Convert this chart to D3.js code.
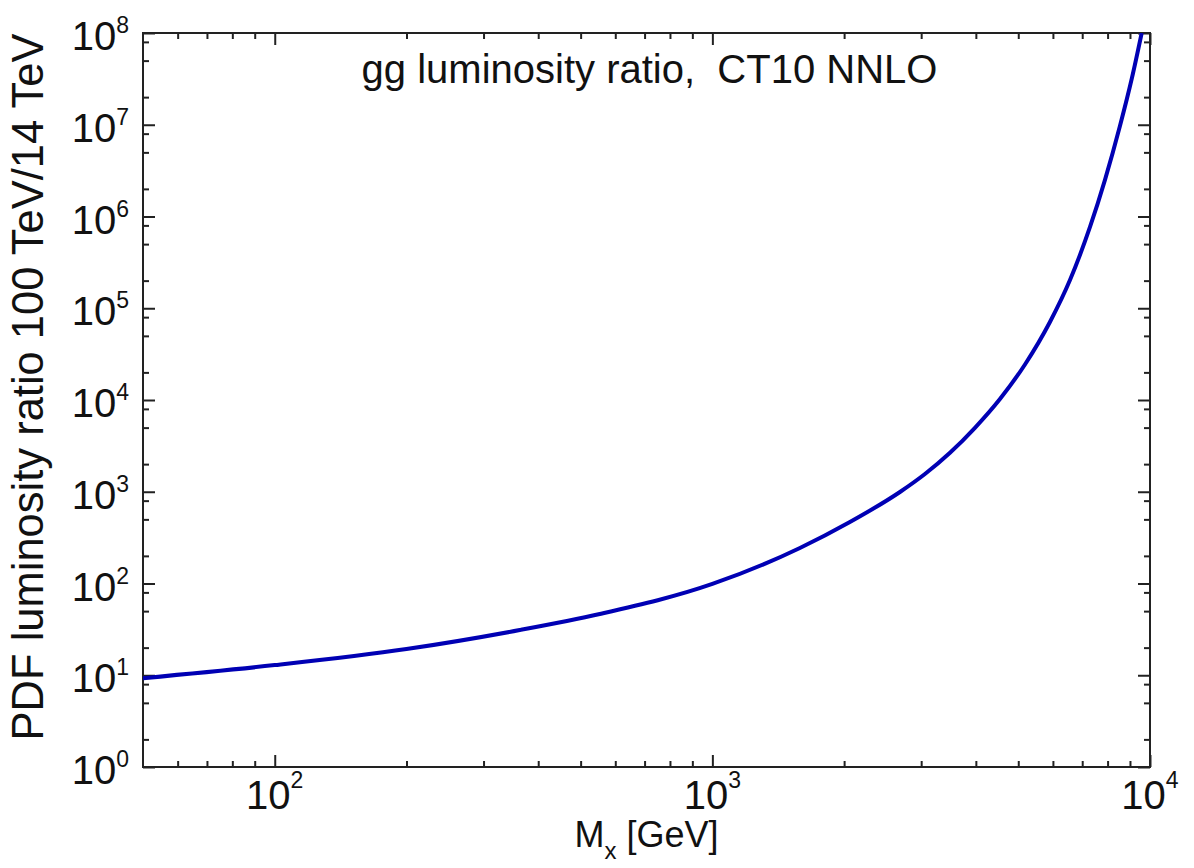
<!DOCTYPE html>
<html>
<head>
<meta charset="utf-8">
<script src="https://cdn.jsdelivr.net/npm/d3@7"></script>
<style>
  body { margin: 0; background: #fff; }
  text { font-family: "Liberation Sans", Arial, sans-serif; fill: #111; }
</style>
</head>
<body>
<div id="chart"></div>
<script>

// curve: M_X in GeV, luminosity ratio
var mass  = [50, 100, 200, 363, 553, 1000, 1585, 2062, 2683, 3060, 3491, 3981, 4541,
             5180, 5907, 6564, 7293, 7891, 8540, 9095, 9572];
var ratio = [9.3, 12.9, 19.3, 31.1, 46.5, 98.8, 244, 468, 994, 1561, 2658, 4977, 10250,
             24380, 70800, 2.03e5, 7.69e5, 2.51e6, 9.74e6, 3.25e7, 1e8];

var xMajor = [100, 1000, 10000];
var xMinor = [60, 70, 80, 90, 200, 300, 400, 500, 600, 700, 800, 900,
              2000, 3000, 4000, 5000, 6000, 7000, 8000, 9000];
var yMajor = [1, 10, 100, 1e3, 1e4, 1e5, 1e6, 1e7, 1e8];
var yMinor = [2, 5, 8, 20, 50, 80, 200, 500, 800, 2e3, 5e3, 8e3, 2e4, 5e4, 8e4,
              2e5, 5e5, 8e5, 2e6, 5e6, 8e6, 2e7, 5e7, 8e7];

var titleText = 'gg luminosity ratio,  CT10 NNLO';
var yLabel = 'PDF luminosity ratio 100 TeV/14 TeV';

var width = 1194, height = 868;
var margin = {top: 33, right: 44, bottom: 101, left: 143};
var innerW = width - margin.left - margin.right;
var innerH = height - margin.top - margin.bottom;

var x = d3.scaleLog().domain([50, 10000]).range([0, innerW]);
var y = d3.scaleLog().domain([1, 1e8]).range([innerH, 0]);

var svg = d3.select('#chart').append('svg')
    .attr('width', width)
    .attr('height', height);

var g = svg.append('g')
    .attr('transform', 'translate(' + margin.left + ',' + margin.top + ')');

svg.append('defs').append('clipPath')
    .attr('id', 'plot-clip')
  .append('rect')
    .attr('width', innerW)
    .attr('height', innerH);

// inward ticks on all four sides
function tickAxis(axis, values, size) {
  return axis.tickValues(values).tickSizeInner(-size).tickSizeOuter(0).tickFormat('');
}

var axes = [
  {fn: d3.axisBottom, s: x, t: 'translate(0,' + innerH + ')', major: xMajor, minor: xMinor},
  {fn: d3.axisTop, s: x, t: 'translate(0,0)', major: xMajor, minor: xMinor},
  {fn: d3.axisLeft, s: y, t: 'translate(0,0)', major: yMajor, minor: yMinor},
  {fn: d3.axisRight, s: y, t: 'translate(' + innerW + ',0)', major: yMajor, minor: yMinor}
];

axes.forEach(function(a) {
  [[a.major, 12], [a.minor, 6]].forEach(function(p) {
    var ax = g.append('g')
        .attr('transform', a.t)
        .call(tickAxis(a.fn(a.s), p[0], p[1]));
    ax.select('.domain').remove();
    ax.selectAll('.tick line')
        .attr('stroke', '#222')
        .attr('stroke-width', 2);
  });
});

g.append('rect')
    .attr('width', innerW)
    .attr('height', innerH)
    .attr('fill', 'none')
    .attr('stroke', '#222')
    .attr('stroke-width', 2);

// power-of-ten labels
function expOf(v) { return Math.round(Math.log10(v)); }

var xl = g.selectAll('.xlab').data(xMajor).enter().append('text')
    .attr('class', 'xlab')
    .attr('x', function(d) { return x(d); })
    .attr('y', innerH + 42)
    .attr('text-anchor', 'middle')
    .style('font-size', '40px');
xl.append('tspan').text('10');
xl.append('tspan').attr('dy', -21).style('font-size', '23px').text(function(d) { return expOf(d); });

var yl = g.selectAll('.ylab').data(yMajor).enter().append('text')
    .attr('class', 'ylab')
    .attr('x', -14)
    .attr('y', function(d) { return y(d) + 17; })
    .attr('text-anchor', 'end')
    .style('font-size', '40px');
yl.append('tspan').text('10');
yl.append('tspan').attr('dy', -17).style('font-size', '23px').text(function(d) { return expOf(d); });

// curve
var pts = mass.map(function(m, i) { return {m: m, r: ratio[i]}; });

var line = d3.line()
    .x(function(d) { return x(d.m); })
    .y(function(d) { return y(d.r); })
    .curve(d3.curveMonotoneX);

g.append('path')
    .datum(pts)
    .attr('clip-path', 'url(#plot-clip)')
    .attr('fill', 'none')
    .attr('stroke', '#0000b4')
    .attr('stroke-width', 4)
    .attr('d', line);

// title and axis titles
g.append('text')
    .attr('x', innerW / 2 + 3)
    .attr('y', 50)
    .attr('text-anchor', 'middle')
    .style('font-size', '40px')
    .style('white-space', 'pre')
    .text(titleText);

var xt = g.append('text')
    .attr('x', innerW / 2)
    .attr('y', innerH + 80)
    .attr('text-anchor', 'middle')
    .style('font-size', '36px');
xt.append('tspan').text('M');
xt.append('tspan').attr('dy', 12).style('font-size', '24px').text('x');
xt.append('tspan').attr('dy', -12).text(' [GeV]');

g.append('text')
    .attr('transform', 'translate(' + (-100) + ',' + 354 + ') rotate(-90)')
    .attr('text-anchor', 'middle')
    .style('font-size', '43.5px')
    .text(yLabel);

</script>
</body>
</html>
